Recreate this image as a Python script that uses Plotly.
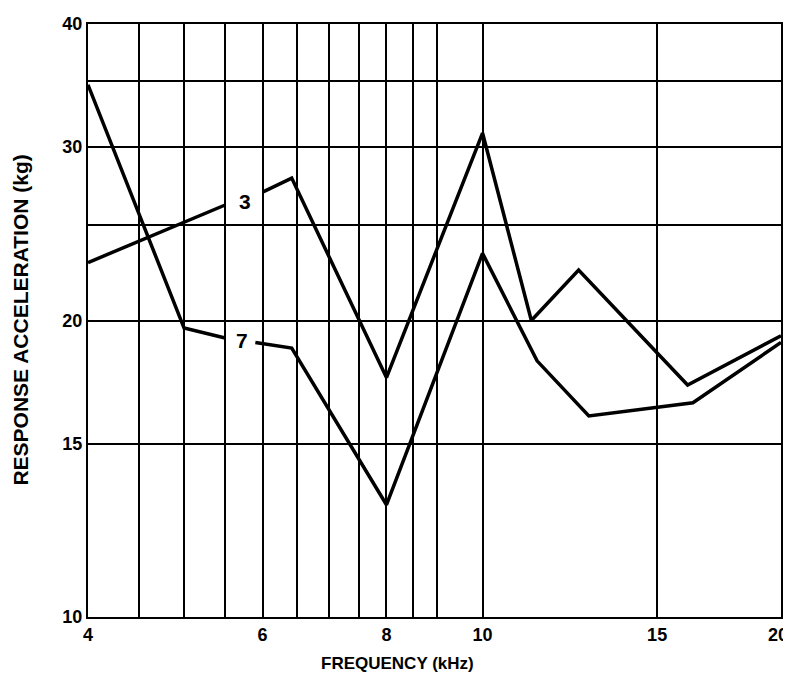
import plotly.graph_objects as go
import math

# Curve "3"
freq3 = [4, 5.5, None, 6.0, 6.42, 8, 10, 11.2, 12.5, 16.1, 20]
acc3 = [22.9, 26.2, None, 27.0, 27.9, 17.5, 31.0, 20.0, 22.5, 17.2, 19.3]

# Curve "7"
freq7 = [4, 5, 5.5, None, 5.9, 6.42, 8, 10, 11.35, 12.8, 16.3, 20]
acc7 = [34.7, 19.65, 19.2, None, 19.0, 18.75, 13.0, 23.4, 18.2, 16.0, 16.5, 19.0]

x_grid = [4, 4.5, 5, 5.5, 6, 6.5, 7, 7.5, 8, 8.5, 9, 10, 15, 20]
x_labels = {4: "4", 6: "6", 8: "8", 10: "10", 15: "15"}
x_last_label = (20, "20")
y_grid = [10, 15, 20, 25, 30, 35, 40]
y_labels = {10: "10", 15: "15", 20: "20", 30: "30", 40: "40"}

curve_labels = [("3", 5.76, 26.4), ("7", 5.72, 19.1)]

x_title = "FREQUENCY (kHz)"
y_title = "RESPONSE ACCELERATION (kg)"

FONT = "Liberation Sans, Arial, sans-serif"

def fnt(size):
    return dict(family=FONT, size=size, color="black", weight="bold")

fig = go.Figure()
for xs, ys in [(freq3, acc3), (freq7, acc7)]:
    fig.add_trace(go.Scatter(x=xs, y=ys, mode="lines", connectgaps=False,
                             line=dict(color="black", width=3.5), showlegend=False,
                             hoverinfo="skip"))

for txt, fx, fy in curve_labels:
    fig.add_annotation(x=math.log10(fx), y=math.log10(fy), text=txt, showarrow=False,
                       font=fnt(21))

# last x tick label, kept inside the page
fig.add_annotation(x=math.log10(x_last_label[0]), yref="paper", y=0, text=x_last_label[1],
                   showarrow=False, xanchor="right", yanchor="top", xshift=9, yshift=-6,
                   font=fnt(18))

# axis titles placed as paper annotations
fig.add_annotation(xref="paper", yref="paper", x=-0.098, y=0.5, text=y_title,
                   textangle=-90, showarrow=False, xanchor="center", yanchor="middle",
                   font=fnt(21))
fig.add_annotation(xref="paper", yref="paper", x=0.447, y=-0.078, text=x_title,
                   showarrow=False, xanchor="center", yanchor="middle",
                   font=fnt(17))

fig.update_xaxes(type="log", range=[math.log10(4), math.log10(20)], automargin=False,
                 tickmode="array", tickvals=x_grid,
                 ticktext=[x_labels.get(v, "") for v in x_grid],
                 showgrid=True, gridcolor="black", gridwidth=2,
                 showline=True, linecolor="black", linewidth=2, mirror=True,
                 ticks="", zeroline=False, tickfont=fnt(18))
fig.update_yaxes(type="log", range=[1, math.log10(40)], automargin=False,
                 tickmode="array", tickvals=y_grid,
                 ticktext=[y_labels.get(v, "") for v in y_grid],
                 showgrid=True, gridcolor="black", gridwidth=2,
                 showline=True, linecolor="black", linewidth=2, mirror=True,
                 ticks="", zeroline=False, tickfont=fnt(18))

fig.update_layout(width=783, height=664,
                  margin=dict(l=80, r=10, t=16, b=55),
                  paper_bgcolor="white", plot_bgcolor="white")

fig.write_html("out.html")
